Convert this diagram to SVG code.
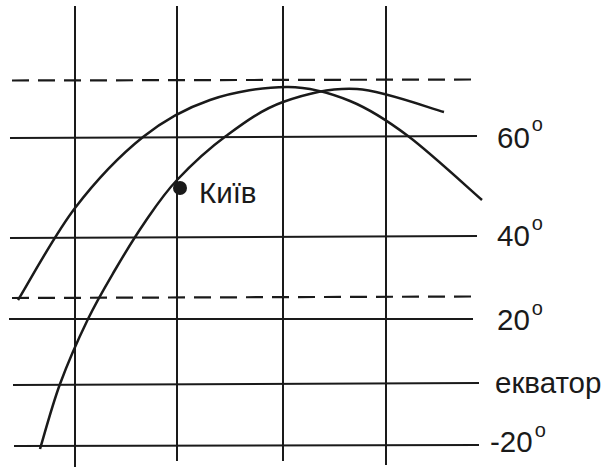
<svg xmlns="http://www.w3.org/2000/svg" width="609" height="468" viewBox="0 0 609 468">
<style>
.g{stroke:#1a1a1a;stroke-width:2;fill:none}
.d{stroke:#1a1a1a;stroke-width:2.2;fill:none;stroke-dasharray:17 9}
.c{stroke:#1a1a1a;stroke-width:2.5;fill:none}
text{font-family:"Liberation Sans",Arial,sans-serif;fill:#1a1a1a;font-size:29.5px}
.s{font-size:20px}
</style>
<rect width="609" height="468" fill="#fff"/>
<g id="grid">
<line class="g" x1="75" y1="6" x2="75" y2="467"/>
<line class="g" x1="177" y1="6" x2="177" y2="461"/>
<line class="g" x1="283" y1="6" x2="283" y2="461"/>
<line class="g" x1="386" y1="6" x2="386" y2="465"/>
<line class="d" x1="12" y1="80.5" x2="478" y2="79.5"/>
<line class="g" x1="10" y1="138" x2="477" y2="136"/>
<line class="g" x1="10" y1="238" x2="477" y2="236"/>
<line class="d" x1="12" y1="298" x2="478" y2="296.5"/>
<line class="g" x1="9" y1="319" x2="473" y2="319"/>
<line class="g" x1="13" y1="385" x2="479" y2="383"/>
<line class="g" x1="14" y1="446" x2="479" y2="445"/>
</g>
<g id="curves">
<path class="c" d="M18,300 C27.5,284.7 54.2,235.2 75,208 C95.8,180.8 120.5,155 143,137 C165.5,119 185.8,108.3 210,100 C234.2,91.7 264.7,86.8 288,87 C311.3,87.2 330,92.8 350,101 C370,109.2 386,119.5 408,136 C430,152.5 469.7,189.3 482,200"/>
<path class="c" d="M40,449 C43.3,438.2 52,405.7 60,384 C68,362.3 78.8,338 88,319 C97.2,300 105.5,286.2 115,270 C124.5,253.8 134.7,237 145,222 C155.3,207 163.5,194.3 177,180 C190.5,165.7 208.3,149 226,136 C243.7,123 261.2,109.8 283,102 C304.8,94.2 330.2,87.3 357,89 C383.8,90.7 429.5,108.2 444,112"/>
</g>
<g id="kyiv">
<circle cx="180" cy="188" r="7" fill="#1a1a1a"/>
<text x="199" y="203" font-size="29">Київ</text>
</g>
<g id="labels">
<text x="497" y="148">60<tspan class="s" dx="2" dy="-17">o</tspan></text>
<text x="497" y="246">40<tspan class="s" dx="2" dy="-16">o</tspan></text>
<text x="497" y="330">20<tspan class="s" dx="2" dy="-15">o</tspan></text>
<text x="495" y="393">екватор</text>
<text x="490" y="452">-20<tspan class="s" dx="2" dy="-15">o</tspan></text>
</g>
</svg>
